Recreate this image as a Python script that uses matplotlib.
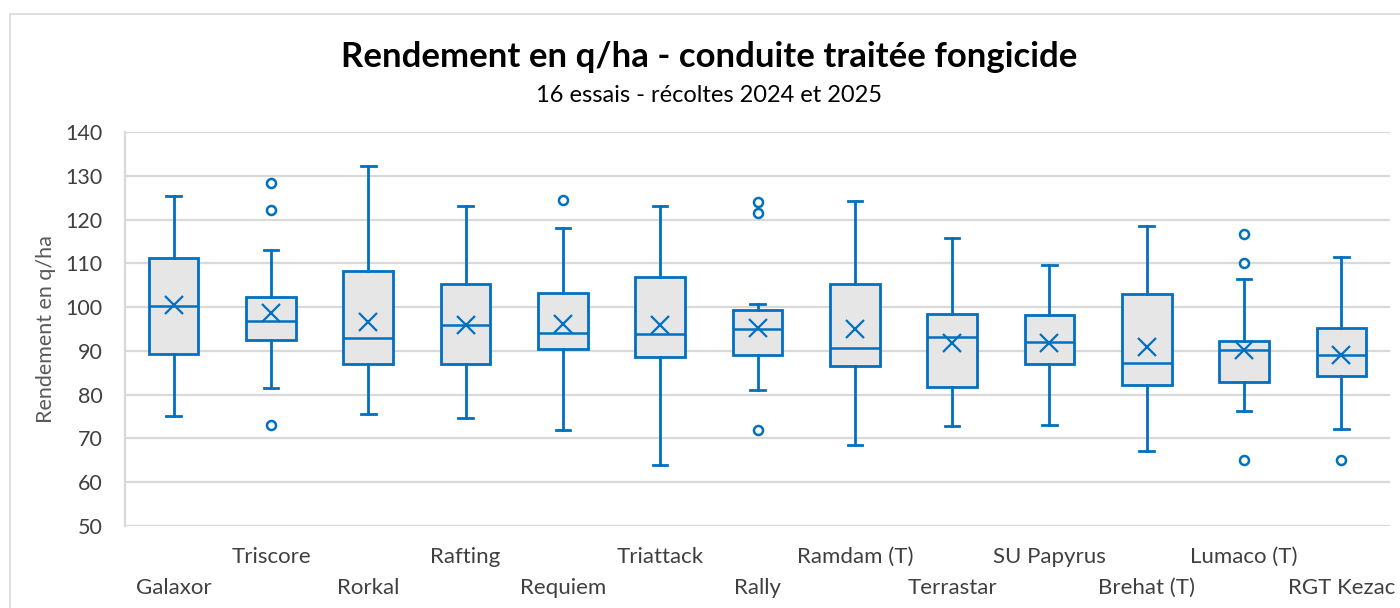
import matplotlib
matplotlib.use("Agg")
import matplotlib.pyplot as plt
from matplotlib.patches import Rectangle
import matplotlib.transforms as mtransforms

categories = ["Galaxor", "Triscore", "Rorkal", "Rafting", "Requiem", "Triattack", "Rally",
              "Ramdam (T)", "Terrastar", "SU Papyrus", "Brehat (T)", "Lumaco (T)", "RGT Kezac"]
whislo = [75.2, 81.5, 75.6, 74.7, 71.9, 63.9, 81.1, 68.4, 72.8, 73.1, 67.1, 76.3, 72.2]
q1 =     [89.2, 92.5, 86.9, 87.1, 90.4, 88.7, 89.1, 86.6, 81.8, 86.9, 82.1, 82.9, 84.3]
median = [100.3, 96.8, 93.0, 95.9, 94.0, 93.8, 94.9, 90.7, 93.1, 92.1, 87.3, 90.2, 89.0]
q3 =     [111.3, 102.4, 108.3, 105.3, 103.2, 106.8, 99.3, 105.2, 98.5, 98.1, 102.9, 92.3, 95.2]
whishi = [125.4, 113.1, 132.2, 123.1, 118.0, 123.0, 100.6, 124.2, 115.8, 109.6, 118.6, 106.4, 111.4]
mean =   [100.4, 98.6, 96.5, 96.0, 96.1, 95.8, 95.3, 95.0, 91.9, 91.8, 90.8, 90.2, 89.0]
outliers = [[], [128.3, 122.2, 73.0], [], [], [124.5], [], [124.1, 121.4, 71.9],
            [], [], [], [], [116.7, 110.0, 65.1], [65.1]]

title = "Rendement en q/ha - conduite traitée fongicide"
subtitle = "16 essais - récoltes 2024 et 2025"
ylabel = "Rendement en q/ha"
yticks = [50, 60, 70, 80, 90, 100, 110, 120, 130, 140]

blue = "#0070C0"
grid = "#D9D9D9"
txt = "#595959"
font = ["Lato", "DejaVu Sans"]
plt.rcParams["font.family"] = font

fig = plt.figure(figsize=(14, 6.08), dpi=100)
ax = fig.add_axes([125/1400, (608-526)/608, (1390-125)/1400, (526-132)/608])

fig.patches.append(Rectangle((10/1400, -0.1), 1.2, (608-14)/608 + 0.1,
                             transform=fig.transFigure, fill=False,
                             edgecolor=grid, lw=1.2, zorder=0))

stats = []
for i, name in enumerate(categories):
    stats.append(dict(label=name, whislo=whislo[i], q1=q1[i], med=median[i], q3=q3[i],
                      whishi=whishi[i], mean=mean[i], fliers=outliers[i]))

positions = list(range(len(categories)))
ax.bxp(stats, positions=positions, widths=0.51, patch_artist=True, showmeans=True,
       showfliers=True, capwidths=0.15,
       boxprops=dict(facecolor="#E7E6E6", edgecolor=blue, lw=2),
       medianprops=dict(color=blue, lw=1.8),
       whiskerprops=dict(color=blue, lw=2),
       capprops=dict(color=blue, lw=2),
       meanprops=dict(marker="x", markeredgecolor=blue, markersize=13, markeredgewidth=1.6),
       flierprops=dict(marker="o", markerfacecolor="white", markeredgecolor=blue,
                       markersize=6.5, markeredgewidth=1.8),
       zorder=3)

ax.set_xlim(-0.5, len(categories) - 0.5)
ax.set_ylim(50, 140)
ax.set_yticks(yticks)
ax.set_yticklabels([str(v) for v in yticks], color="#404040", fontsize=15.5)
ax.yaxis.grid(True, color=grid, lw=1.6, zorder=0)
ax.set_axisbelow(True)
ax.tick_params(axis="y", length=0, pad=16)
ax.tick_params(axis="x", length=0)
ax.set_xticks([])
for s in ["top", "right", "bottom"]:
    ax.spines[s].set_visible(False)
ax.spines["left"].set_color(grid)
ax.spines["left"].set_linewidth(1.6)

trans = mtransforms.blended_transform_factory(ax.transData, ax.transAxes)
for i, name in enumerate(categories):
    y = -0.0787 if i % 2 == 1 else -0.157
    ax.text(i, y, name, transform=trans, ha="center", va="center",
            fontsize=16, color="#404040")

ax.set_ylabel(ylabel, fontsize=15.5, color=txt, labelpad=7)

fig.text(709/1400, 1 - 57/608, title, ha="center", va="center", fontsize=25,
         fontweight="bold", color="black")
fig.text(709/1400, 1 - 95/608, subtitle, ha="center", va="center", fontsize=17,
         color="black")

fig.savefig("out.png", dpi=100)
